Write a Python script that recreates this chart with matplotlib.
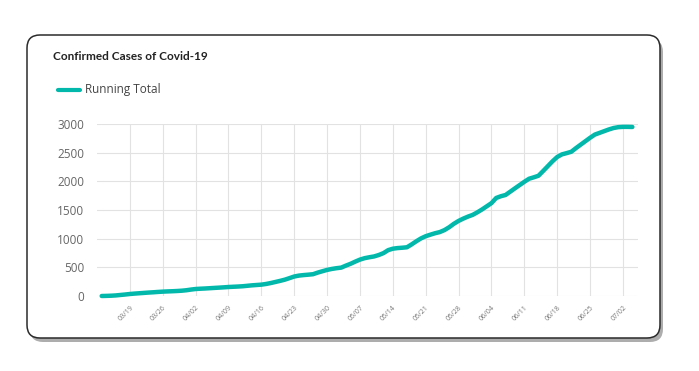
import matplotlib.pyplot as plt
from matplotlib.patches import FancyBboxPatch
import numpy as np
import pandas as pd

# daily running total of confirmed cases, 03/13 .. 07/04
start_date = '2020-03-13'
running_total = [
    0, 2, 5, 10, 18, 26, 35, 42, 48, 54,
    60, 65, 71, 76, 80, 83, 87, 92, 100, 112,
    122, 127, 131, 136, 141, 146, 151, 157, 161, 165,
    170, 178, 186, 192, 198, 210, 226, 245, 264, 285,
    312, 340, 356, 365, 372, 380, 408, 432, 455, 472,
    485, 495, 530, 562, 600, 635, 660, 676, 690, 715,
    748, 800, 825, 836, 842, 850, 900, 955, 1005, 1043,
    1070, 1095, 1115, 1150, 1200, 1260, 1310, 1350, 1385, 1415,
    1460, 1510, 1565, 1620, 1710, 1740, 1762, 1820, 1878, 1935,
    1992, 2045, 2070, 2097, 2180, 2265, 2350, 2425, 2470, 2492,
    2516, 2580, 2640, 2700, 2760, 2815, 2845, 2875, 2905, 2930,
    2945, 2950, 2950, 2948,
]
tick_labels = ['03/19', '03/26', '04/02', '04/09', '04/16', '04/23', '04/30', '05/07',
               '05/14', '05/21', '05/28', '06/04', '06/11', '06/18', '06/25', '07/02']
y_ticks = [0, 500, 1000, 1500, 2000, 2500, 3000]

dates = pd.date_range(start_date, periods=len(running_total))
tick_dates = [pd.Timestamp('2020-' + t.replace('/', '-')) for t in tick_labels]

fig = plt.figure(figsize=(6.99, 3.71), dpi=100)
fig.patch.set_facecolor('white')

# card with shadow
shadow = FancyBboxPatch((0.30, 0.29), 6.33, 3.03, boxstyle='round,pad=0,rounding_size=0.13',
                        transform=fig.dpi_scale_trans, facecolor='#8a8a8a', edgecolor='none',
                        alpha=0.7, zorder=0)
card = FancyBboxPatch((0.27, 0.33), 6.33, 3.03, boxstyle='round,pad=0,rounding_size=0.13',
                      transform=fig.dpi_scale_trans, facecolor='white', edgecolor='#2b2b2b',
                      linewidth=1.1, zorder=1)
fig.patches.extend([shadow, card])

fig.text(53 / 699, 1 - 57 / 371, 'Confirmed Cases of Covid-19', fontsize=8.5,
         fontweight='bold', family='Lato', color='#222222', va='center', ha='left')
fig.add_artist(plt.Line2D([58 / 699, 80 / 699], [1 - 90 / 371] * 2, color='#01B8AA',
                          linewidth=3, solid_capstyle='round'))
fig.text(85 / 699, 1 - 90 / 371, 'Running Total', fontsize=8.5, family='Open Sans',
         color='#444444', va='center', ha='left')

ax = fig.add_axes([97 / 699, 1 - 296 / 371, (638 - 97) / 699, (296 - 124) / 371])
ax.set_zorder(2)
ax.patch.set_alpha(0)
ax.plot(dates, running_total, color='#01B8AA', linewidth=3.2, solid_capstyle='round',
        solid_joinstyle='round', clip_on=False, zorder=3)

ax.set_ylim(0, 3000)
ax.set_xlim(dates[0] - pd.Timedelta(days=1), dates[0] + pd.Timedelta(days=114.2))
ax.set_yticks(y_ticks)
ax.set_yticklabels([str(v) for v in y_ticks], family='Open Sans', fontsize=8.5, color='#666666')
ax.set_xticks(tick_dates)
ax.set_xticklabels(tick_labels, rotation=45, ha='right', va='top', rotation_mode='anchor',
                   fontsize=5, family='Open Sans', color='#777777')
ax.tick_params(length=0, pad=9, axis='y')
ax.tick_params(length=0, pad=6, axis='x')
ax.grid(True, color='#e2e2e2', linewidth=0.8)
for s in ax.spines.values():
    s.set_visible(False)

fig.savefig('out.png', dpi=100)
